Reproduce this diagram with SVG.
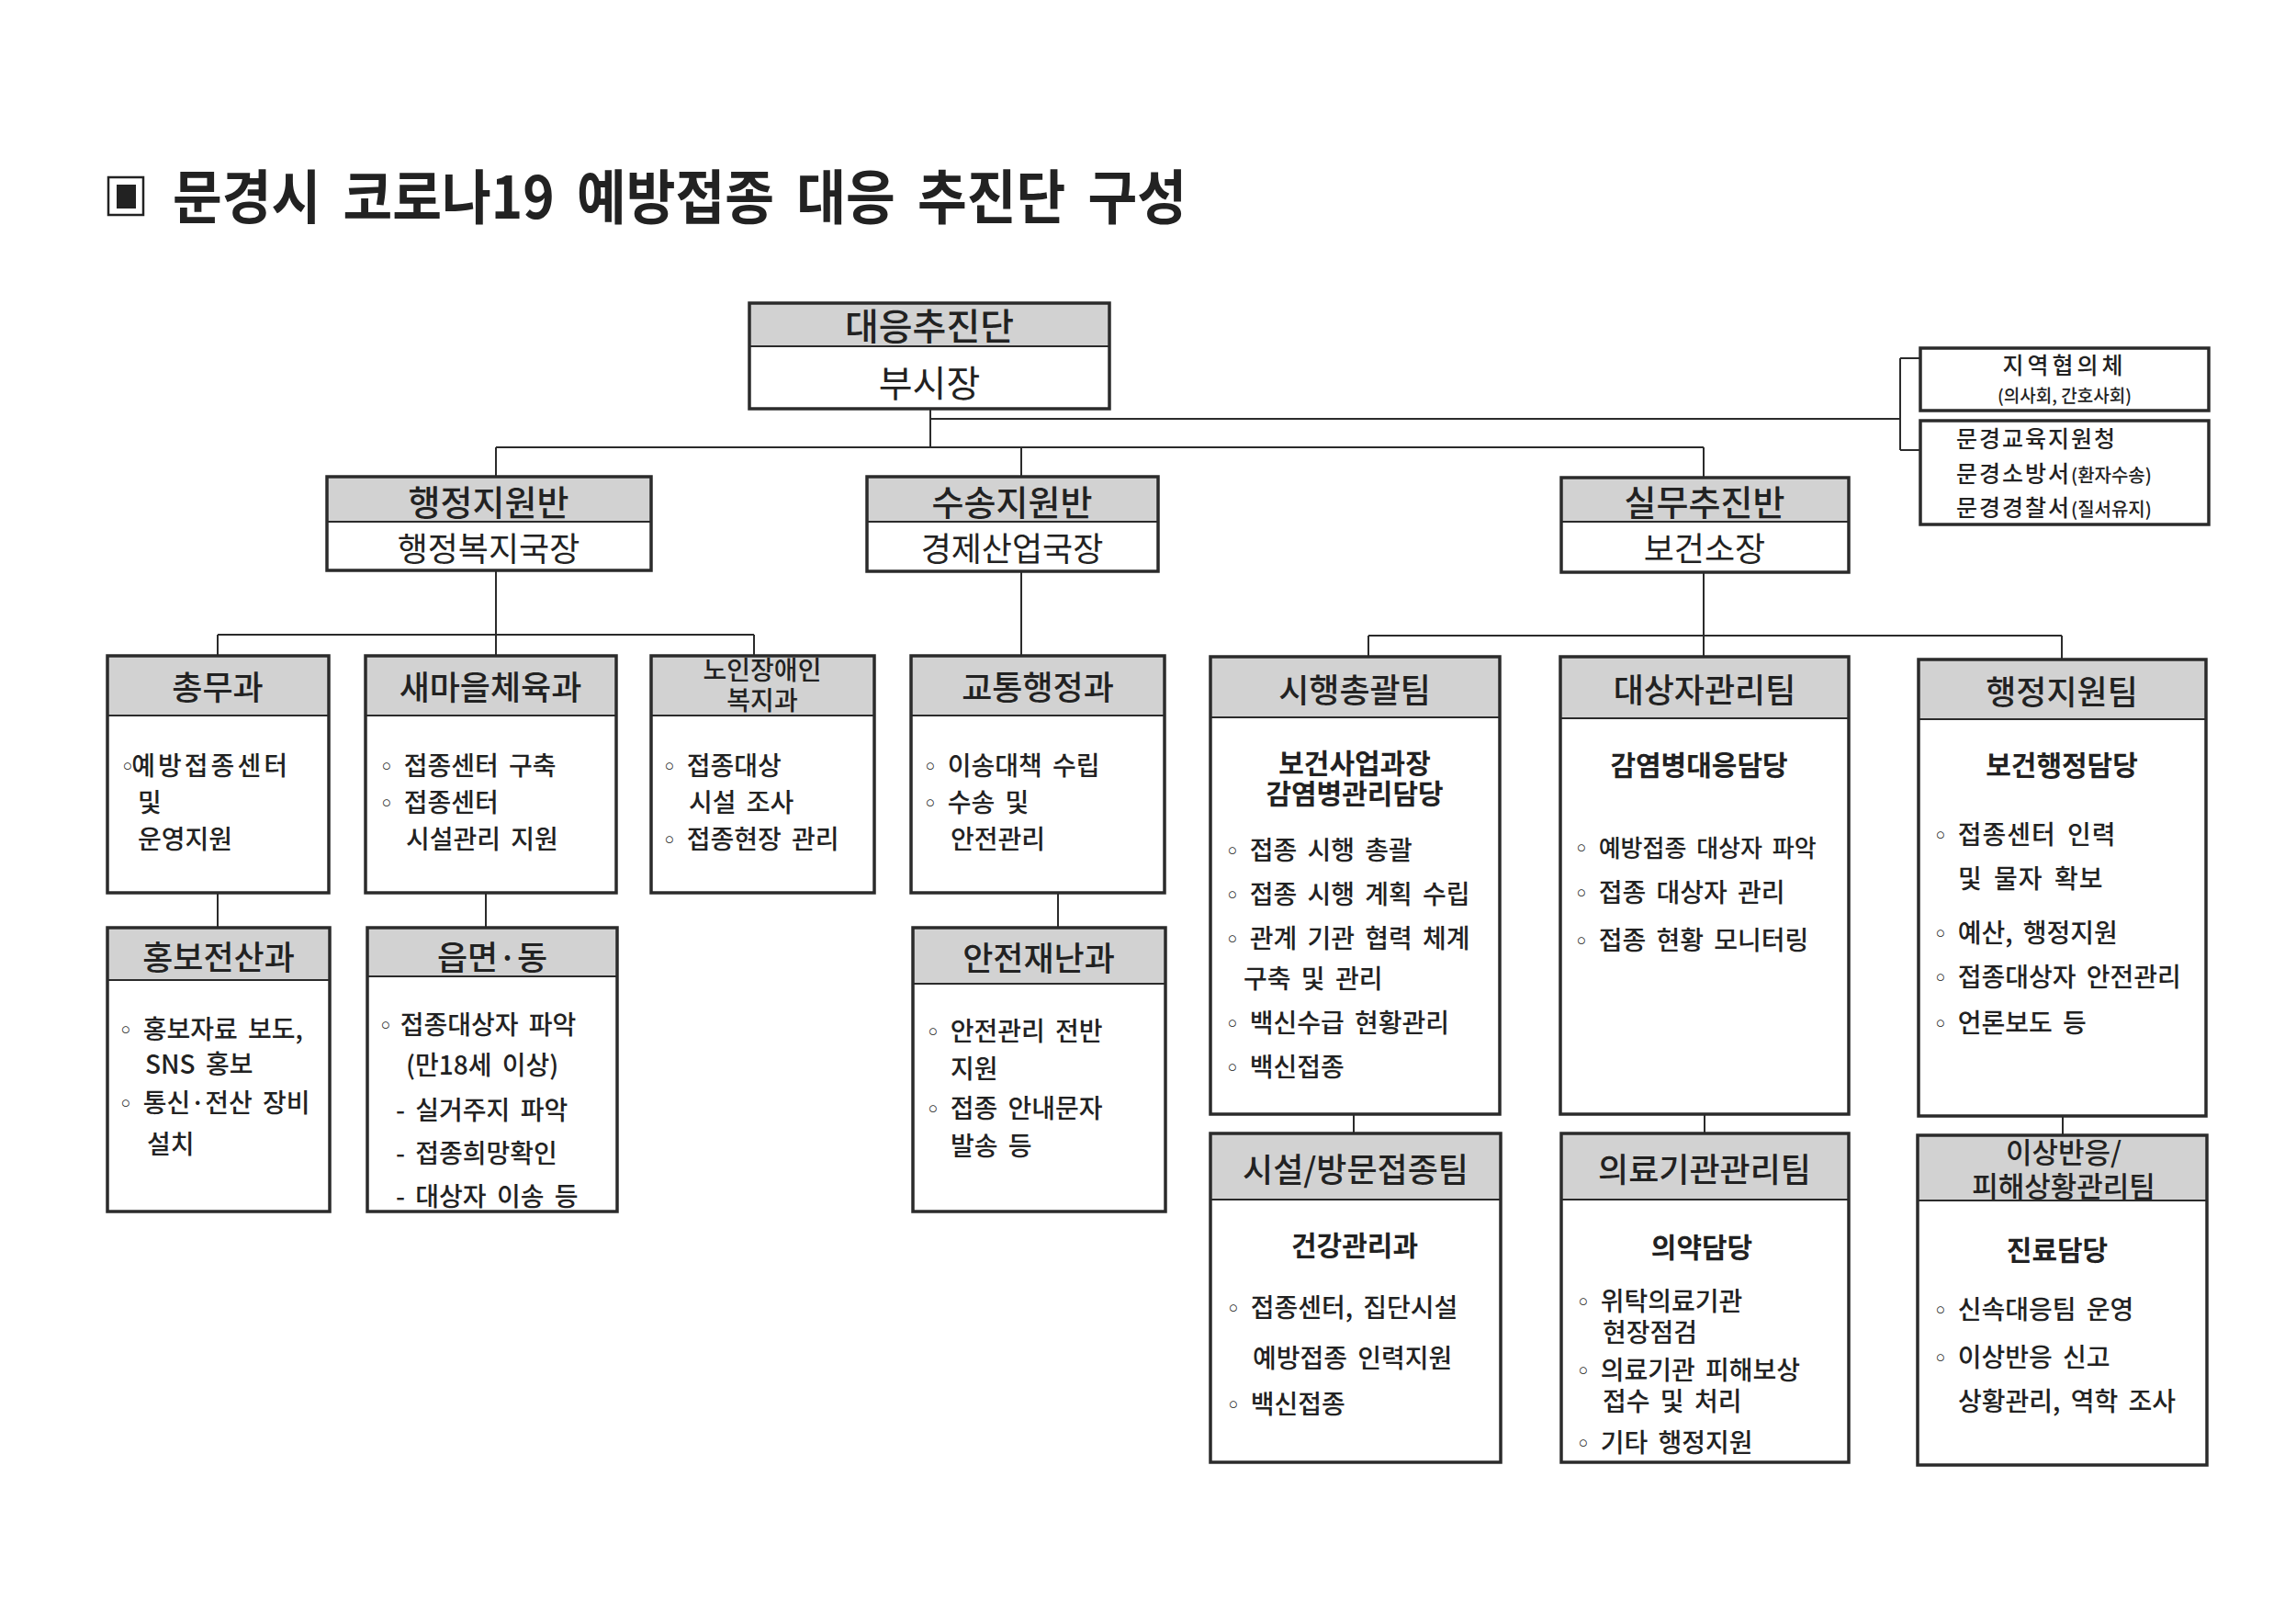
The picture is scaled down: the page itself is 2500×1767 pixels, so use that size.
<svg xmlns="http://www.w3.org/2000/svg" width="2500" height="1767" viewBox="0 0 2500 1767">
<style>
.t{font-family:"Noto Sans CJK KR","Noto Sans",sans-serif;fill:#222}
.hf{fill:#d2d2d2;stroke:none}
.fr{fill:none;stroke:#2b2b2b;stroke-width:3.5}
.dv{stroke:#2b2b2b;stroke-width:2}
.cn line{stroke:#2b2b2b;stroke-width:2}
.h{font-size:36px;font-weight:500;text-anchor:middle}
.h2{font-size:38px;font-weight:500;text-anchor:middle}
.b{font-size:28px;font-weight:500;word-spacing:5px}
.s{font-size:30px;font-weight:700;text-anchor:middle}
.sm{font-size:20px}
.bu{font-family:"DejaVu Sans",sans-serif;font-size:26px;font-weight:400}
</style>
<rect width="2500" height="1767" fill="#fff"/>

<g id="title">
<rect x="118" y="193" width="38" height="41" fill="none" stroke="#222" stroke-width="2.5"/>
<rect x="127" y="201" width="21" height="26" fill="#222"/>
<text class="t" x="188" y="238" font-size="64" font-weight="700" word-spacing="12" textLength="1104" lengthAdjust="spacingAndGlyphs">문경시 코로나19 예방접종 대응 추진단 구성</text>
</g>

<g id="connectors" class="cn">
<line x1="1013" y1="445" x2="1013" y2="487"/>
<line x1="1013" y1="456" x2="2069" y2="456"/>
<line x1="2069" y1="390" x2="2069" y2="490"/>
<line x1="2069" y1="390" x2="2091" y2="390"/>
<line x1="2069" y1="490" x2="2091" y2="490"/>
<line x1="540" y1="487" x2="1855" y2="487"/>
<line x1="540" y1="487" x2="540" y2="519"/>
<line x1="1112" y1="487" x2="1112" y2="519"/>
<line x1="1855" y1="487" x2="1855" y2="520"/>
<line x1="540" y1="621" x2="540" y2="714"/>
<line x1="237" y1="691" x2="821" y2="691"/>
<line x1="237" y1="691" x2="237" y2="714"/>
<line x1="821" y1="691" x2="821" y2="714"/>
<line x1="1112" y1="622" x2="1112" y2="714"/>
<line x1="237" y1="972" x2="237" y2="1010"/>
<line x1="529" y1="972" x2="529" y2="1010"/>
<line x1="1152" y1="972" x2="1152" y2="1010"/>
<line x1="1855" y1="623" x2="1855" y2="715"/>
<line x1="1490" y1="692" x2="2245" y2="692"/>
<line x1="1490" y1="692" x2="1490" y2="715"/>
<line x1="2245" y1="692" x2="2245" y2="718"/>
<line x1="1474" y1="1213" x2="1474" y2="1234"/>
<line x1="1856" y1="1213" x2="1856" y2="1234"/>
<line x1="2246" y1="1215" x2="2246" y2="1236"/>
</g>

<g id="n-top">
<rect class="hf" x="816" y="330" width="392" height="47"/>
<rect class="fr" x="816" y="330" width="392" height="115"/>
<line class="dv" x1="816" y1="377" x2="1208" y2="377"/>
<text class="t" x="1012" y="370" font-size="40" font-weight="500" text-anchor="middle">대응추진단</text>
<text class="t" x="1012" y="432" font-size="40" text-anchor="middle">부시장</text>
</g>

<g id="n-haengjeong">
<rect class="hf" x="356" y="519" width="353" height="49"/>
<rect class="fr" x="356" y="519" width="353" height="102"/>
<line class="dv" x1="356" y1="568" x2="709" y2="568"/>
<text class="t h2" x="532" y="561">행정지원반</text>
<text class="t" x="532" y="611" font-size="36" text-anchor="middle">행정복지국장</text>
</g>

<g id="n-susong">
<rect class="hf" x="944" y="519" width="317" height="49"/>
<rect class="fr" x="944" y="519" width="317" height="103"/>
<line class="dv" x1="944" y1="568" x2="1261" y2="568"/>
<text class="t h2" x="1102" y="561">수송지원반</text>
<text class="t" x="1102" y="611" font-size="36" text-anchor="middle">경제산업국장</text>
</g>

<g id="n-silmu">
<rect class="hf" x="1700" y="520" width="313" height="48"/>
<rect class="fr" x="1700" y="520" width="313" height="103"/>
<line class="dv" x1="1700" y1="568" x2="2013" y2="568"/>
<text class="t h2" x="1856" y="561">실무추진반</text>
<text class="t" x="1856" y="611" font-size="36" text-anchor="middle">보건소장</text>
</g>

<g id="n-jiyeok">
<rect class="fr" x="2091" y="379" width="314" height="68"/>
<text class="t" x="2248" y="407" font-size="25" font-weight="500" letter-spacing="4" text-anchor="middle">지역협의체</text>
<text class="t" x="2248" y="438" font-size="19" font-weight="500" text-anchor="middle">(의사회, 간호사회)</text>
</g>

<g id="n-gigwan">
<rect class="fr" x="2091" y="458" width="314" height="113"/>
<text class="t" x="2130" y="487" font-size="25" font-weight="500" letter-spacing="2">문경교육지원청</text>
<text class="t" x="2130" y="525" font-size="25" font-weight="500" letter-spacing="2">문경소방서<tspan class="sm" letter-spacing="0">(환자수송)</tspan></text>
<text class="t" x="2130" y="562" font-size="25" font-weight="500" letter-spacing="2">문경경찰서<tspan class="sm" letter-spacing="0">(질서유지)</tspan></text>
</g>

<g id="n-chongmu">
<rect class="hf" x="117" y="714" width="241" height="65"/>
<rect class="fr" x="117" y="714" width="241" height="258"/>
<line class="dv" x1="117" y1="779" x2="358" y2="779"/>
<text class="t h" x="237" y="762">총무과</text>
<text class="t b" x="131" y="844"><tspan class="bu" letter-spacing="-3">◦</tspan><tspan letter-spacing="3">예방접종센터</tspan></text>
<text class="t b" x="150" y="884">및</text>
<text class="t b" x="150" y="924">운영지원</text>
</g>

<g id="n-saemaeul">
<rect class="hf" x="398" y="714" width="273" height="65"/>
<rect class="fr" x="398" y="714" width="273" height="258"/>
<line class="dv" x1="398" y1="779" x2="671" y2="779"/>
<text class="t h" x="534" y="762">새마을체육과</text>
<text class="t b" x="413" y="844"><tspan class="bu">◦</tspan> 접종센터 구축</text>
<text class="t b" x="413" y="884"><tspan class="bu">◦</tspan> 접종센터</text>
<text class="t b" x="442" y="924">시설관리 지원</text>
</g>

<g id="n-noin">
<rect class="hf" x="709" y="714" width="243" height="65"/>
<rect class="fr" x="709" y="714" width="243" height="258"/>
<line class="dv" x1="709" y1="779" x2="952" y2="779"/>
<text class="t" font-size="28" font-weight="500" text-anchor="middle"><tspan x="830" y="740">노인장애인</tspan><tspan x="830" y="773">복지과</tspan></text>
<text class="t b" x="721" y="844"><tspan class="bu">◦</tspan> 접종대상</text>
<text class="t b" x="750" y="884">시설 조사</text>
<text class="t b" x="721" y="924"><tspan class="bu">◦</tspan> 접종현장 관리</text>
</g>

<g id="n-gyotong">
<rect class="hf" x="992" y="714" width="276" height="65"/>
<rect class="fr" x="992" y="714" width="276" height="258"/>
<line class="dv" x1="992" y1="779" x2="1268" y2="779"/>
<text class="t h" x="1130" y="762">교통행정과</text>
<text class="t b" x="1005" y="844"><tspan class="bu">◦</tspan> 이송대책 수립</text>
<text class="t b" x="1005" y="884"><tspan class="bu">◦</tspan> 수송 및</text>
<text class="t b" x="1035" y="924">안전관리</text>
</g>

<g id="n-hongbo">
<rect class="hf" x="117" y="1010" width="242" height="57"/>
<rect class="fr" x="117" y="1010" width="242" height="309"/>
<line class="dv" x1="117" y1="1067" x2="359" y2="1067"/>
<text class="t h" x="238" y="1056">홍보전산과</text>
<text class="t b" x="129" y="1131"><tspan class="bu">◦</tspan> 홍보자료 보도,</text>
<text class="t b" x="158" y="1169">SNS 홍보</text>
<text class="t b" x="129" y="1211" word-spacing="0"><tspan class="bu">◦</tspan> 통신·전산 장비</text>
<text class="t b" x="160" y="1256">설치</text>
</g>

<g id="n-eupmyeon">
<rect class="hf" x="400" y="1010" width="272" height="53"/>
<rect class="fr" x="400" y="1010" width="272" height="309"/>
<line class="dv" x1="400" y1="1063" x2="672" y2="1063"/>
<text class="t h" x="536" y="1056">읍면·동</text>
<text class="t b" x="412" y="1126" word-spacing="1"><tspan class="bu" letter-spacing="-3">◦</tspan> 접종대상자 파악</text>
<text class="t b" x="442" y="1170">(만18세 이상)</text>
<text class="t b" x="431" y="1219">- 실거주지 파악</text>
<text class="t b" x="431" y="1266">- 접종희망확인</text>
<text class="t b" x="431" y="1313">- 대상자 이송 등</text>
</g>

<g id="n-anjeon">
<rect class="hf" x="994" y="1010" width="275" height="61"/>
<rect class="fr" x="994" y="1010" width="275" height="309"/>
<line class="dv" x1="994" y1="1071" x2="1269" y2="1071"/>
<text class="t h" x="1131" y="1057">안전재난과</text>
<text class="t b" x="1008" y="1133"><tspan class="bu">◦</tspan> 안전관리 전반</text>
<text class="t b" x="1035" y="1174">지원</text>
<text class="t b" x="1008" y="1217"><tspan class="bu">◦</tspan> 접종 안내문자</text>
<text class="t b" x="1035" y="1258">발송 등</text>
</g>

<g id="n-sihaeng">
<rect class="hf" x="1318" y="715" width="315" height="66"/>
<rect class="fr" x="1318" y="715" width="315" height="498"/>
<line class="dv" x1="1318" y1="781" x2="1633" y2="781"/>
<text class="t h" x="1475" y="765">시행총괄팀</text>
<text class="t s" x="1475" y="842" font-size="28">보건사업과장</text>
<text class="t s" x="1475" y="875" font-size="28">감염병관리담당</text>
<text class="t b" x="1334" y="936"><tspan class="bu">◦</tspan> 접종 시행 총괄</text>
<text class="t b" x="1334" y="984"><tspan class="bu">◦</tspan> 접종 시행 계획 수립</text>
<text class="t b" x="1334" y="1032"><tspan class="bu">◦</tspan> 관계 기관 협력 체계</text>
<text class="t b" x="1354" y="1076">구축 및 관리</text>
<text class="t b" x="1334" y="1124"><tspan class="bu">◦</tspan> 백신수급 현황관리</text>
<text class="t b" x="1334" y="1172"><tspan class="bu">◦</tspan> 백신접종</text>
</g>

<g id="n-daesangja">
<rect class="hf" x="1699" y="715" width="314" height="67"/>
<rect class="fr" x="1699" y="715" width="314" height="498"/>
<line class="dv" x1="1699" y1="782" x2="2013" y2="782"/>
<text class="t h" x="1856" y="765">대상자관리팀</text>
<text class="t s" x="1850" y="844">감염병대응담당</text>
<text class="t b" x="1714" y="933" word-spacing="3"><tspan class="bu">◦</tspan> <tspan font-size="26">예방접종 대상자 파악</tspan></text>
<text class="t b" x="1714" y="982"><tspan class="bu">◦</tspan> 접종 대상자 관리</text>
<text class="t b" x="1714" y="1034"><tspan class="bu">◦</tspan> 접종 현황 모니터링</text>
</g>

<g id="n-haengjeongteam">
<rect class="hf" x="2089" y="718" width="313" height="65"/>
<rect class="fr" x="2089" y="718" width="313" height="497"/>
<line class="dv" x1="2089" y1="783" x2="2402" y2="783"/>
<text class="t h" x="2245" y="767">행정지원팀</text>
<text class="t s" x="2245" y="844">보건행정담당</text>
<text class="t b" x="2105" y="919"><tspan class="bu">◦</tspan> <tspan letter-spacing="1">접종센터 인력</tspan></text>
<text class="t b" x="2132" y="967" letter-spacing="1">및 물자 확보</text>
<text class="t b" x="2105" y="1026"><tspan class="bu">◦</tspan> 예산, 행정지원</text>
<text class="t b" x="2105" y="1074"><tspan class="bu">◦</tspan> 접종대상자 안전관리</text>
<text class="t b" x="2105" y="1124"><tspan class="bu">◦</tspan> 언론보도 등</text>
</g>

<g id="n-siseol">
<rect class="hf" x="1318" y="1234" width="316" height="72"/>
<rect class="fr" x="1318" y="1234" width="316" height="358"/>
<line class="dv" x1="1318" y1="1306" x2="1634" y2="1306"/>
<text class="t h" x="1476" y="1287">시설/방문접종팀</text>
<text class="t s" x="1475" y="1367">건강관리과</text>
<text class="t b" x="1335" y="1434"><tspan class="bu">◦</tspan> 접종센터, 집단시설</text>
<text class="t b" x="1364" y="1489">예방접종 인력지원</text>
<text class="t b" x="1335" y="1539"><tspan class="bu">◦</tspan> 백신접종</text>
</g>

<g id="n-uiryo">
<rect class="hf" x="1700" y="1234" width="313" height="72"/>
<rect class="fr" x="1700" y="1234" width="313" height="358"/>
<line class="dv" x1="1700" y1="1306" x2="2013" y2="1306"/>
<text class="t h" x="1856" y="1287">의료기관관리팀</text>
<text class="t s" x="1853" y="1369">의약담당</text>
<text class="t b" x="1716" y="1427"><tspan class="bu">◦</tspan> 위탁의료기관</text>
<text class="t b" x="1745" y="1461">현장점검</text>
<text class="t b" x="1716" y="1502"><tspan class="bu">◦</tspan> 의료기관 피해보상</text>
<text class="t b" x="1745" y="1536">접수 및 처리</text>
<text class="t b" x="1716" y="1581"><tspan class="bu">◦</tspan> 기타 행정지원</text>
</g>

<g id="n-isang">
<rect class="hf" x="2088" y="1236" width="315" height="71"/>
<rect class="fr" x="2088" y="1236" width="315" height="359"/>
<line class="dv" x1="2088" y1="1307" x2="2403" y2="1307"/>
<text class="t" font-size="31" font-weight="500" text-anchor="middle"><tspan x="2247" y="1266">이상반응/</tspan><tspan x="2247" y="1303">피해상황관리팀</tspan></text>
<text class="t s" x="2240" y="1372">진료담당</text>
<text class="t b" x="2105" y="1436"><tspan class="bu">◦</tspan> 신속대응팀 운영</text>
<text class="t b" x="2105" y="1488"><tspan class="bu">◦</tspan> 이상반응 신고</text>
<text class="t b" x="2132" y="1536">상황관리, 역학 조사</text>
</g>
</svg>
